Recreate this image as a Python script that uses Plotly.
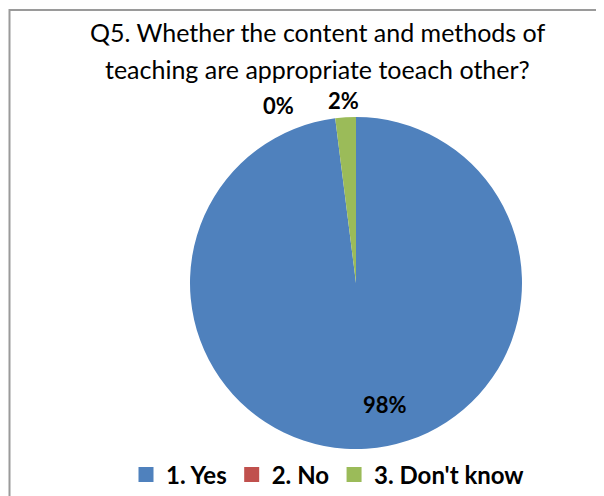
import plotly.graph_objects as go

categories = ["1. Yes", "2. No", "3. Don't know"]
values = [98, 0, 2]
colors = ["#4F81BD", "#C0504D", "#9BBB59"]
title_lines = ["Q5. Whether the content and methods of", "teaching are appropriate toeach other?"]

W, H = 604, 496
OX, OY = 8, 8  # page body margin offset
font_family = "Lato, 'Open Sans', sans-serif"


def px(x):
    return (x - OX) / W


def py(y):
    return 1 - (y - OY) / H


fig = go.Figure()
fig.add_trace(go.Pie(
    labels=categories,
    values=values,
    marker=dict(colors=colors, line=dict(color="white", width=0)),
    sort=False,
    direction="clockwise",
    rotation=0,
    textinfo="none",
    hoverinfo="label+percent",
    domain=dict(x=[px(190), px(522)], y=[py(449), py(117)]),
    showlegend=False,
))

# legend entries with larger square swatches
for cat, col in zip(categories, colors):
    fig.add_trace(go.Scatter(
        x=[None], y=[None], mode="markers", name=cat,
        marker=dict(symbol="square", size=15, color=col),
        showlegend=True, hoverinfo="skip",
    ))

annotations = []
for i, line in enumerate(title_lines):
    annotations.append(dict(
        text=line, x=px(317), y=py(32 + 37 * i), xref="paper", yref="paper",
        xanchor="center", yanchor="middle", showarrow=False,
        font=dict(family=font_family, size=25, color="#000000"),
    ))

total = sum(values)
label_pos = [(385, 404), (278, 106), (343, 100)]
for v, (lx, ly) in zip(values, label_pos):
    annotations.append(dict(
        text="<b>%d%%</b>" % round(100 * v / total), x=px(lx), y=py(ly),
        xref="paper", yref="paper", xanchor="center", yanchor="middle",
        showarrow=False, font=dict(family=font_family, size=22, color="#000000"),
    ))

fig.update_layout(
    width=W, height=H,
    margin=dict(l=0, r=0, t=0, b=0),
    paper_bgcolor="white",
    plot_bgcolor="rgba(0,0,0,0)",
    xaxis=dict(visible=False),
    yaxis=dict(visible=False),
    annotations=annotations,
    legend=dict(
        orientation="h", x=px(328), xanchor="center", y=py(475), yanchor="middle",
        font=dict(family=font_family, size=24, color="#000000", weight="bold"),
        itemwidth=30, traceorder="normal",
    ),
    shapes=[dict(
        type="rect", xref="paper", yref="paper",
        x0=1.5 / W, x1=1.2, y0=-0.2, y1=py(10),
        line=dict(color="#9a9a9a", width=2), fillcolor="rgba(0,0,0,0)", layer="below",
    )],
)

fig.write_html("out.html")
